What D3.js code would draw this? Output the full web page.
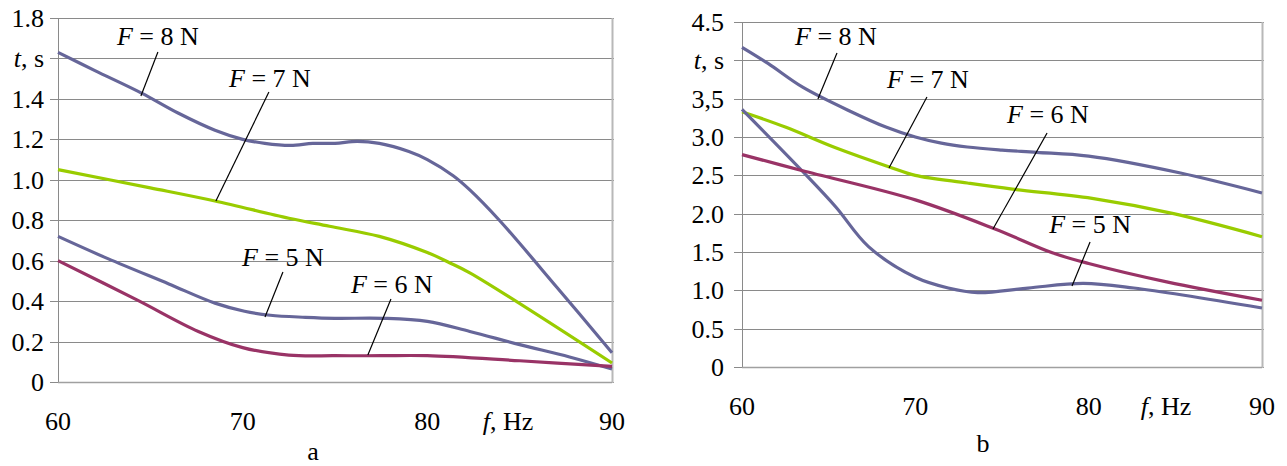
<!DOCTYPE html>
<html><head><meta charset="utf-8">
<script src="https://cdn.jsdelivr.net/npm/d3@7"></script>
<style>body{margin:0;background:#fff}svg{display:block}</style>
</head><body><svg id="c" width="1287" height="466" font-family="'Liberation Serif', 'Times New Roman', Times, 'DejaVu Serif', serif"></svg>
<script>
// ---- Panel a data (f in Hz, t in s) ----
const aF8 = [60, 62, 64.5, 66.5, 68.5, 70, 71.2, 72.6, 73.8, 75, 76.2, 77.4, 79, 80, 81.4, 82.3, 83.9, 87, 90];
const aT8 = [1.63, 1.54, 1.43, 1.33, 1.245, 1.20, 1.18, 1.17, 1.18, 1.18, 1.19, 1.18, 1.14, 1.10, 1.02, 0.95, 0.80, 0.47, 0.145];
const aF7 = [60, 65, 68.5, 72.5, 74.7, 77.4, 80, 81.2, 82.3, 90];
const aT7 = [1.05, 0.96, 0.895, 0.81, 0.77, 0.72, 0.64, 0.59, 0.54, 0.094];
const aF5 = [60, 62.7, 66, 68.5, 70.1, 71.5, 73.4, 75, 77.6, 80, 82.3, 85, 87.7, 90];
const aT5 = [0.72, 0.61, 0.485, 0.39, 0.35, 0.33, 0.32, 0.315, 0.315, 0.30, 0.25, 0.185, 0.124, 0.064];
const aF6 = [60, 64.3, 67.6, 70, 72.5, 75, 77.5, 80, 85, 90];
const aT6 = [0.60, 0.405, 0.25, 0.17, 0.133, 0.13, 0.13, 0.13, 0.105, 0.077];
// ---- Panel b data ----
const bF8 = [60, 61.5, 63.5, 66.3, 68.3, 70, 71.5, 73, 75, 77, 80, 85.3, 90];
const bT8 = [4.17, 3.96, 3.65, 3.33, 3.13, 3.0, 2.92, 2.87, 2.83, 2.80, 2.75, 2.53, 2.27];
const bF7 = [60, 62.5, 65.4, 68.5, 70, 73, 75.6, 80.2, 84.9, 90];
const bT7 = [3.33, 3.13, 2.86, 2.61, 2.50, 2.40, 2.32, 2.20, 2.0, 1.70];
const bF6 = [60, 63.5, 70, 74.6, 77.9, 80, 84.5, 90];
const bT6 = [2.77, 2.56, 2.18, 1.80, 1.49, 1.35, 1.11, 0.87];
const bF5 = [60, 63.5, 65.4, 67.3, 70, 71.9, 73.6, 76.5, 79.7, 82.6, 90];
const bT5 = [3.36, 2.55, 2.09, 1.57, 1.17, 1.03, 0.97, 1.03, 1.09, 1.03, 0.77];

const xTicks = [60, 70, 80, 90];
const aYTicks = [0, 0.2, 0.4, 0.6, 0.8, 1.0, 1.2, 1.4, 1.6, 1.8];
const aYLabels = ["0", "0.2", "0.4", "0.6", "0.8", "1.0", "1.2", "1.4", "t, s", "1.8"];
const bYTicks = [0, 0.5, 1.0, 1.5, 2.0, 2.5, 3.0, 3.5, 4.0, 4.5];
const bYLabels = ["0", "0.5", "1.0", "1.5", "2.0", "2.5", "3.0", "3,5", "t, s", "4.5"];
const seriesNames = ["F = 8 N", "F = 7 N", "F = 6 N", "F = 5 N"];

const colors = {8: "#666699", 7: "#99cc00", 6: "#993366", 5: "#666699"};
const svg = d3.select("#c");
const FS = 26;

function panel(cfg) {
  const x = d3.scaleLinear().domain([60, 90]).range([cfg.x0, cfg.x1]);
  const y = d3.scaleLinear().domain([0, cfg.ymax]).range([cfg.y0, cfg.y1]);
  const g = svg.append("g");
  g.selectAll("line.grid").data(cfg.yTicks).join("line")
    .attr("x1", cfg.x0 - 8).attr("x2", cfg.x1 + 2)
    .attr("y1", d => Math.round(y(d)) + 0.5).attr("y2", d => Math.round(y(d)) + 0.5)
    .attr("stroke", "#8a8a8a").attr("stroke-width", 1);
  g.append("line").attr("x1", cfg.x0 + 0.5).attr("x2", cfg.x0 + 0.5)
    .attr("y1", y(cfg.ymax)).attr("y2", y(0)).attr("stroke", "#8a8a8a");
  g.append("line").attr("x1", cfg.x1 + 0.5).attr("x2", cfg.x1 + 0.5)
    .attr("y1", y(cfg.ymax)).attr("y2", y(0) + 1).attr("stroke", "#b8b8b8").attr("stroke-width", 2);
  g.append("line").attr("x1", cfg.x0).attr("x2", cfg.x1)
    .attr("y1", Math.round(y(0)) + 0.5).attr("y2", Math.round(y(0)) + 0.5).attr("stroke", "#a0a0a0").attr("stroke-width", 1.5);
  cfg.yTicks.forEach((v, i) => {
    const lab = cfg.yLabels[i];
    const t = g.append("text").attr("x", cfg.labRight).attr("y", y(v) + 9)
      .attr("text-anchor", "end").attr("font-size", FS);
    if (lab.startsWith("t,")) {
      t.append("tspan").attr("font-style", "italic").text("t");
      t.append("tspan").text(", s");
    } else t.text(lab);
  });
  xTicks.forEach(v => {
    g.append("text").attr("x", x(v)).attr("y", cfg.xLabY).attr("text-anchor", "middle")
      .attr("font-size", FS).text(v);
  });
  const fl = g.append("text").attr("x", cfg.fLabX).attr("y", cfg.xLabY).attr("text-anchor", "middle").attr("font-size", FS);
  fl.append("tspan").attr("font-style", "italic").text("f");
  fl.append("tspan").text(", Hz");
  g.append("text").attr("x", cfg.letterX).attr("y", cfg.letterY).attr("text-anchor", "middle")
    .attr("font-size", FS).text(cfg.letter);
  const line = d3.line().x(d => x(d[0])).y(d => y(d[1])).curve(d3.curveCatmullRom.alpha(0.5));
  cfg.series.forEach(s => {
    g.append("path").attr("d", line(s.f.map((f, i) => [f, s.t[i]])))
      .attr("fill", "none").attr("stroke", colors[s.n]).attr("stroke-width", 3.2)
      .attr("stroke-linejoin", "round");
  });
  cfg.ann.forEach(a => {
    g.append("line").attr("x1", x(a.l[0])).attr("y1", y(a.l[1])).attr("x2", x(a.l[2])).attr("y2", y(a.l[3]))
      .attr("stroke", "#000").attr("stroke-width", 1.2);
    const t = g.append("text").attr("x", x(a.p[0])).attr("y", y(a.p[1])).attr("text-anchor", "middle")
      .attr("font-size", FS).style("white-space", "pre");
    const name = seriesNames[a.k];
    t.append("tspan").attr("font-style", "italic").text(name.slice(0, 1));
    t.append("tspan").text(name.slice(1));
  });
}

panel({
  x0: 58, x1: 612, y0: 382, y1: 18, ymax: 1.8,
  yTicks: aYTicks, yLabels: aYLabels, labRight: 44, xLabY: 430, fLabX: 508,
  letter: "a", letterX: 313, letterY: 460,
  series: [{n: 8, f: aF8, t: aT8}, {n: 7, f: aF7, t: aT7}, {n: 5, f: aF5, t: aT5}, {n: 6, f: aF6, t: aT6}],
  ann: [
    {k: 0, p: [65.41, 1.667], l: [65.41, 1.632, 64.49, 1.414]},
    {k: 1, p: [71.48, 1.459], l: [71.42, 1.434, 68.55, 0.895]},
    {k: 3, p: [72.18, 0.574], l: [72.18, 0.544, 71.21, 0.321]},
    {k: 2, p: [78.08, 0.440], l: [78.03, 0.410, 76.78, 0.134]}
  ]
});
panel({
  x0: 742, x1: 1262, y0: 367, y1: 22, ymax: 4.5,
  yTicks: bYTicks, yLabels: bYLabels, labRight: 724, xLabY: 415, fLabX: 1166,
  letter: "b", letterX: 983, letterY: 452,
  series: [{n: 8, f: bF8, t: bT8}, {n: 7, f: bF7, t: bT7}, {n: 5, f: bF5, t: bT5}, {n: 6, f: bF6, t: bT6}],
  ann: [
    {k: 0, p: [65.42, 4.20], l: [65.48, 4.096, 64.38, 3.496]},
    {k: 1, p: [70.73, 3.639], l: [70.67, 3.522, 68.48, 2.596]},
    {k: 2, p: [77.65, 3.183], l: [77.6, 3.052, 74.48, 1.80]},
    {k: 3, p: [80.08, 1.748], l: [80.08, 1.630, 79.04, 1.057]}
  ]
});
</script></body></html>
